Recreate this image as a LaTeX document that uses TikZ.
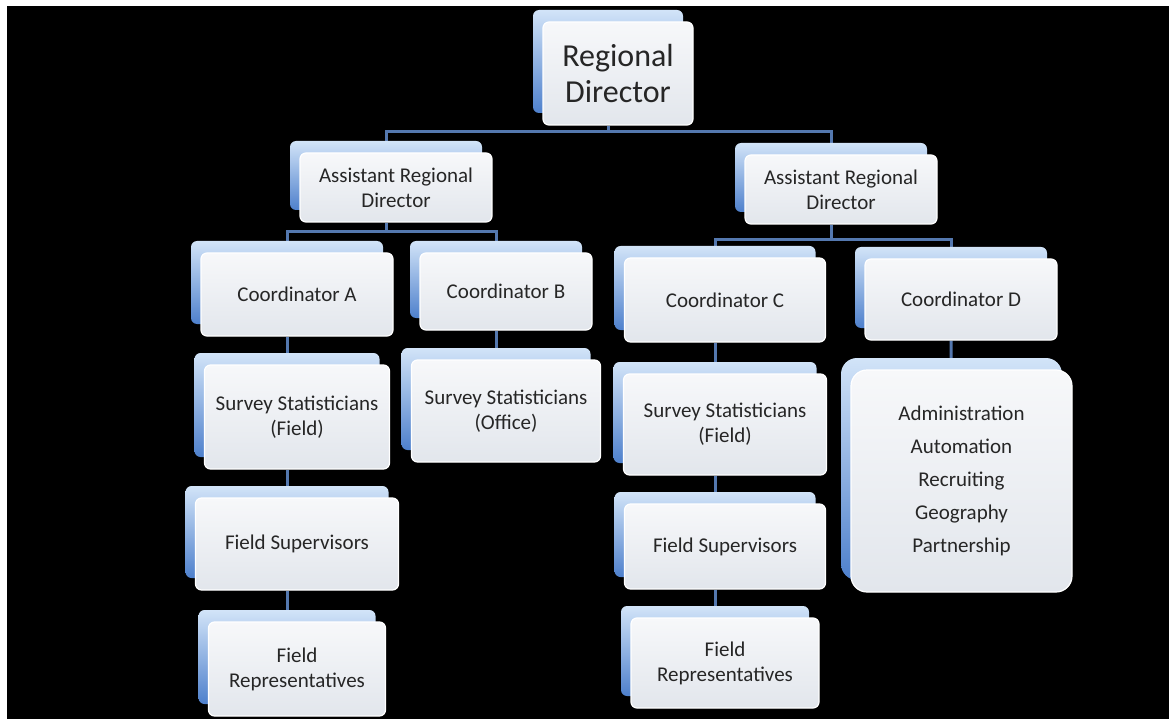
\documentclass[tikz,border=0pt]{standalone}
\usepackage{fontspec}
\setmainfont{Carlito}
\usepackage{tikz}
\usetikzlibrary{shadows,backgrounds}
\definecolor{cardtop}{RGB}{247,248,250}
\definecolor{cardbot}{RGB}{226,230,236}
\definecolor{stacktop}{RGB}{210,228,248}
\definecolor{stackbot}{RGB}{78,128,204}
\definecolor{linkblue}{RGB}{84,120,175}
\definecolor{inkgray}{RGB}{38,38,38}

\begin{document}
\begin{tikzpicture}[x=1pt,y=-1pt,
  card/.style={rectangle,draw=white,line width=1.2pt,rounded corners=6pt,align=center,
               top color=cardtop,bottom color=cardbot,text=inkgray,inner sep=0pt,
               font={\fontsize{21}{25}\selectfont},
               general shadow={shadow xshift=-10pt,shadow yshift=12pt,
                               top color=stacktop,bottom color=stackbot}},
  wh/.style 2 args={minimum width=#1pt,minimum height=#2pt},
  link/.style={draw=linkblue,line width=3pt}
]
\useasboundingbox (0,0) rectangle (1169,719);

% Direction
\node[card,wh={150}{103},font={\fontsize{32}{36}\selectfont}] (rd) at (618,73.5) {Regional\\Director};
\node[card,wh={192}{69}] (ardl) at (396,187.5) {Assistant Regional\\Director};
\node[card,wh={192}{69}] (ardr) at (841,189.5) {Assistant Regional\\Director};

% Left branch
\node[card,wh={192}{83}] (coa) at (297,294.5) {Coordinator A};
\node[card,wh={172}{77}] (cob) at (506,291.5) {Coordinator B};
\node[card,wh={185}{104}] (ssa) at (297,417) {Survey Statisticians\\(Field)};
\node[card,wh={189}{102}] (sso) at (506,411) {Survey Statisticians\\(Office)};
\node[card,wh={203}{92}] (fsa) at (297,544) {Field Supervisors};
\node[card,wh={177}{94}] (fra) at (297,669) {Field\\Representatives};

% Right branch
\node[card,wh={201}{84}] (coc) at (725,300) {Coordinator C};
\node[card,wh={192}{81}] (cod) at (961,299.5) {Coordinator D};
\node[card,wh={203}{101}] (ssc) at (725,424.5) {Survey Statisticians\\(Field)};
\node[card,wh={201}{85}] (fsc) at (725,546.5) {Field Supervisors};
\node[card,wh={188}{90}] (frc) at (725,663) {Field\\Representatives};
\node[card,wh={221}{222},rounded corners=16pt,font={\fontsize{21}{33}\selectfont}] (tasks) at (961.5,481)
  {Administration\\Automation\\Recruiting\\Geography\\Partnership};

\coordinate (bar1) at (rd |- 0,132);
\coordinate (bar2) at (ardl |- 0,232);
\coordinate (bar3) at (ardr |- 0,240);

% Lines behind the stacks
\begin{scope}[on background layer]
\fill[white] (0,0) rectangle (1169,719);
\fill[black] (7,6) rectangle (1169,719);
\begin{scope}[transform canvas={xshift=-10pt}]
\draw[link] (rd) -- (bar1);
\draw[link] (ardl) |- (bar1) -| (ardr);
\draw[link] (ardl) -- (bar2);
\draw[link] (coa) |- (bar2) -| (cob);
\draw[link] (ardr) -- (bar3);
\draw[link] (coc) |- (bar3) -| (cod);
\draw[link] (coa) -- (ssa); \draw[link] (ssa) -- (fsa); \draw[link] (fsa) -- (fra);
\draw[link] (cob) -- (sso);
\draw[link] (coc) -- (ssc); \draw[link] (ssc) -- (fsc); \draw[link] (fsc) -- (frc);
\draw[link] (cod) -- (tasks);
\end{scope}
\end{scope}
\end{tikzpicture}
\end{document}
